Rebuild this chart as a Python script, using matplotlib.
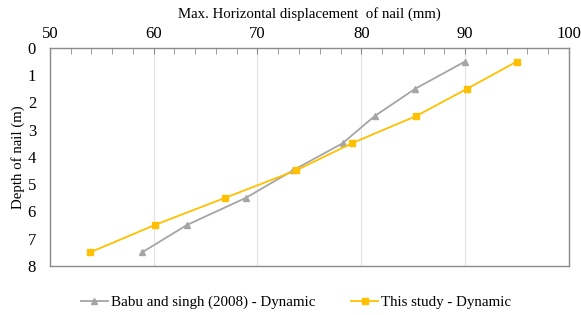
import matplotlib.pyplot as plt
from matplotlib.ticker import MultipleLocator

# depth of nail (m)
depth = [0.5, 1.5, 2.5, 3.5, 4.5, 5.5, 6.5, 7.5]
# max horizontal displacement (mm)
babu_disp = [90.0, 85.2, 81.3, 78.2, 73.4, 68.9, 63.2, 58.9]
study_disp = [95.0, 90.2, 85.3, 79.1, 73.7, 66.9, 60.1, 53.9]

plt.rcParams['font.family'] = ['Liberation Serif', 'DejaVu Serif']

fig = plt.figure(figsize=(5.81, 3.15), dpi=100)
ax = fig.add_axes([0.086, 0.156, 0.893, 0.692])

ax.plot(babu_disp, depth, color='#A5A5A5', marker='^', markersize=4,
        linewidth=1.3, label='Babu and singh (2008) - Dynamic')
ax.plot(study_disp, depth, color='#FFC000', marker='s', markersize=4.5,
        linewidth=1.3, label='This study - Dynamic')

ax.set_xlim(50, 100)
ax.set_ylim(8, 0)
ax.xaxis.tick_top()
ax.xaxis.set_label_position('top')
ax.xaxis.set_major_locator(MultipleLocator(10))
ax.xaxis.set_minor_locator(MultipleLocator(2))
ax.yaxis.set_major_locator(MultipleLocator(1))
ax.tick_params(axis='x', which='both', direction='in', length=4,
               color='#8C8C8C', labelsize=12, pad=4)
ax.tick_params(axis='y', length=0, labelsize=12, pad=10)
ax.grid(axis='x', color='#E3E3E3', linewidth=0.8)
ax.set_axisbelow(True)
for s in ax.spines.values():
    s.set_color('#8C8C8C')
    s.set_linewidth(1.0)

ax.set_xlabel('Max. Horizontal displacement  of nail (mm)', fontsize=10.7, labelpad=6)
ax.set_ylabel('Depth of nail (m)', fontsize=10.7, labelpad=2)

fig.legend(loc='center', bbox_to_anchor=(0.51, 0.04), ncol=2, frameon=False,
           fontsize=10.8, handlelength=1.8, handletextpad=0.2, columnspacing=2.4)

fig.savefig('out.png', dpi=100)
